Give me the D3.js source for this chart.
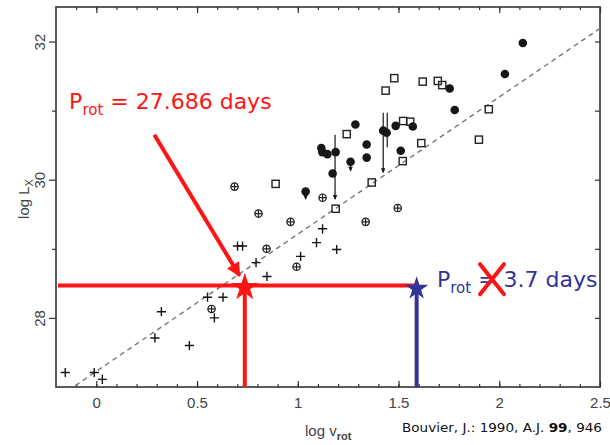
<!DOCTYPE html>
<html>
<head>
<meta charset="utf-8">
<script src="https://cdn.jsdelivr.net/npm/d3@7"></script>
<style>
body { margin: 0; background: #fff; }
svg text { font-family: "Liberation Sans", Arial, sans-serif; white-space: pre; }
.note { font-family: "DejaVu Sans", sans-serif; }
</style>
</head>
<body>
<svg id="chart" width="610" height="445"></svg>
<script>
var filled = [[1.286, 30.80], [1.117, 30.46], [1.122, 30.40], [1.147, 30.37], [1.188, 30.40],
  [1.173, 30.09], [1.262, 30.26], [1.342, 30.51], [1.342, 30.32], [1.424, 30.71],
  [1.441, 30.68], [1.486, 30.78], [1.571, 30.77], [1.511, 30.42], [1.779, 31.01],
  [1.754, 31.32], [2.028, 31.53], [2.117, 31.98], [1.039, 29.83]]

var squares = [[1.479, 31.47], [1.436, 31.29], [1.620, 31.42], [1.695, 31.43], [1.717, 31.37],
  [1.243, 30.66], [1.523, 30.85], [1.558, 30.84], [1.613, 30.53], [1.521, 30.27],
  [1.367, 29.96], [1.948, 31.02], [1.899, 30.58], [1.188, 29.58], [0.890, 29.94]]

var crossed = [[0.686, 29.90], [0.805, 29.51], [0.964, 29.39], [1.123, 29.74], [0.845, 29.00],
  [0.994, 28.74], [1.496, 29.59], [1.337, 29.39], [0.572, 28.13]]

var pluses = [[-0.154, 27.21], [-0.010, 27.21], [0.030, 27.11], [0.323, 28.09], [0.291, 27.71],
  [0.462, 27.60], [0.552, 28.30], [0.629, 28.30], [0.586, 28.00], [0.701, 29.04],
  [0.726, 29.04], [0.793, 28.80], [0.847, 28.60], [1.014, 28.89], [1.123, 29.29],
  [1.093, 29.09], [1.193, 28.99]]

// vertical range bars: x, top, bottom, arrow head
var bars = [[1.185, 30.65, 29.72, 1], [1.424, 30.97, 30.11, 1], [1.444, 30.97, 30.47, 0],
  [1.039, 29.83, 29.72, 1], [1.262, 30.26, 30.13, 1]]

var fitLine = [[-0.104, 27.02], [2.5, 32.19]]

var xMajor = [0, 0.5, 1, 1.5, 2, 2.5]
var xLabels = ['0', '0.5', '1', '1.5', '2', '2.5']
var yMajor = [28, 30, 32]
var yLabels = ['28', '30', '32']
var yMinor = [29, 31]
var yRight = [28, 29, 30, 31, 32]

var sun = [0.737, 28.47]
var fast = [1.59, 28.455]
var arrowFrom = [0.288, 30.65], arrowTo = [0.711, 28.61]
var redLabel = [-0.135, 31.02], blueLabel = [1.691, 28.447]
var strike = [1.964, 28.56]

var red = '#ff1414', blue = '#333399', ink = '#161616'

var svg = d3.select('#chart')
var x = d3.scaleLinear().domain([-0.2, 2.5]).range([56, 600])
var y = d3.scaleLinear().domain([27, 32.5]).range([387, 7])

svg.append('rect').attr('width', 610).attr('height', 445).attr('fill', '#fff')

svg.append('clipPath').attr('id', 'plot')
  .append('rect').attr('x', x(-0.2)).attr('y', y(32.5))
  .attr('width', x(2.5) - x(-0.2)).attr('height', y(27) - y(32.5))

var defs = svg.append('defs')
defs.append('marker').attr('id', 'head').attr('viewBox', '0 0 10 10')
  .attr('refX', 9).attr('refY', 5).attr('markerUnits', 'userSpaceOnUse')
  .attr('markerWidth', 16).attr('markerHeight', 14).attr('orient', 'auto')
  .append('path').attr('d', 'M0,0L10,5L0,10z').attr('fill', red)

// axes ticks
function clean(g) { g.select('.domain').remove(); g.selectAll('line').attr('stroke', '#333').attr('stroke-width', 1.2) }
var xMinor = d3.range(-0.1, 2.45, 0.1)

svg.append('g').attr('transform', 'translate(0,' + y(27) + ')')
  .call(d3.axisBottom(x).tickValues(xMinor).tickSize(-3).tickFormat('')).call(clean)
svg.append('g').attr('transform', 'translate(0,' + y(32.5) + ')')
  .call(d3.axisTop(x).tickValues(xMinor).tickSize(-3).tickFormat('')).call(clean)
svg.append('g').attr('transform', 'translate(0,' + y(32.5) + ')')
  .call(d3.axisTop(x).tickValues(xMajor).tickSize(-6).tickFormat('')).call(clean)

var xAxis = svg.append('g').attr('transform', 'translate(0,' + y(27) + ')')
  .call(d3.axisBottom(x).tickValues(xMajor).tickSize(-6).tickPadding(10)
    .tickFormat(function(d, i) { return xLabels[i] }))
  .call(clean)
xAxis.selectAll('text').attr('font-size', 15).attr('fill', '#444')
  .attr('font-family', '"Liberation Sans", Arial, sans-serif')

var yAxis = svg.append('g').attr('transform', 'translate(' + x(-0.2) + ',0)')
  .call(d3.axisLeft(y).tickValues(yMajor).tickSize(7)
    .tickFormat(function(d, i) { return yLabels[i] }))
  .call(clean)
yAxis.selectAll('text').attr('transform', 'rotate(-90)').attr('x', 0).attr('y', -11).attr('dy', 0)
  .attr('text-anchor', 'middle').attr('font-size', 15).attr('fill', '#444')
  .attr('font-family', '"Liberation Sans", Arial, sans-serif')
svg.append('g').attr('transform', 'translate(' + x(-0.2) + ',0)')
  .call(d3.axisLeft(y).tickValues(yMinor).tickSize(4).tickFormat('')).call(clean)
svg.append('g').attr('transform', 'translate(' + x(2.5) + ',0)')
  .call(d3.axisRight(y).tickValues(yRight).tickSize(-5).tickFormat('')).call(clean)

// frame
svg.append('rect').attr('x', x(-0.2)).attr('y', y(32.5))
  .attr('width', x(2.5) - x(-0.2)).attr('height', y(27) - y(32.5))
  .attr('fill', 'none').attr('stroke', '#333').attr('stroke-width', 1.6)

// axis titles
var yt = svg.append('text').attr('transform', 'translate(29,199) rotate(-90)')
  .attr('text-anchor', 'middle').attr('font-size', 15).attr('fill', '#444')
yt.append('tspan').text('log L')
yt.append('tspan').attr('dy', 4).attr('font-size', 11).text('X')

var xt = svg.append('text').attr('x', 305).attr('y', 436).attr('font-size', 15).attr('fill', '#444')
xt.append('tspan').text('log v')
xt.append('tspan').attr('dy', 4).attr('font-size', 11).attr('font-weight', 'bold').text('rot')

// dashed relation
var line = d3.line().x(function(d) { return x(d[0]) }).y(function(d) { return y(d[1]) })
svg.append('path').attr('d', line(fitLine)).attr('clip-path', 'url(#plot)')
  .attr('fill', 'none').attr('stroke', '#777').attr('stroke-width', 1.4).attr('stroke-dasharray', '5,4')

// range bars
var bg = svg.append('g').attr('stroke', ink).attr('fill', ink)
bars.forEach(function(b) {
  bg.append('line').attr('x1', x(b[0])).attr('x2', x(b[0]))
    .attr('y1', y(b[1])).attr('y2', y(b[2])).attr('stroke-width', 1.2)
  if (b[3]) bg.append('path')
    .attr('d', 'M' + (x(b[0]) - 2.2) + ',' + (y(b[2]) - 4) + 'L' + (x(b[0]) + 2.2) + ',' + (y(b[2]) - 4) + 'L' + x(b[0]) + ',' + (y(b[2]) + 1) + 'z')
    .attr('stroke', 'none')
})

// markers
svg.append('g').selectAll('circle').data(filled).join('circle')
  .attr('cx', function(d) { return x(d[0]) }).attr('cy', function(d) { return y(d[1]) })
  .attr('r', 4.3).attr('fill', ink)

svg.append('g').selectAll('rect').data(squares).join('rect')
  .attr('x', function(d) { return x(d[0]) - 3.6 }).attr('y', function(d) { return y(d[1]) - 3.6 })
  .attr('width', 7.2).attr('height', 7.2)
  .attr('fill', 'none').attr('stroke', '#222').attr('stroke-width', 1.4)

var cg = svg.append('g').selectAll('g').data(crossed).join('g')
  .attr('transform', function(d) { return 'translate(' + x(d[0]) + ',' + y(d[1]) + ')' })
  .attr('stroke', '#222').attr('fill', 'none').attr('stroke-width', 1.2)
cg.append('circle').attr('r', 3.7)
cg.append('path').attr('d', 'M-3.7,0H3.7M0,-3.7V3.7')

svg.append('g').selectAll('path').data(pluses).join('path')
  .attr('transform', function(d) { return 'translate(' + x(d[0]) + ',' + y(d[1]) + ')' })
  .attr('d', 'M-4.6,0H4.6M0,-4.6V4.6').attr('stroke', ink).attr('stroke-width', 1.4)

// annotation: the Sun and the fast rotator
var note = svg.append('g')
note.append('line').attr('x1', x(-0.2) + 2).attr('x2', x(fast[0]))
  .attr('y1', y(sun[1])).attr('y2', y(sun[1])).attr('stroke', red).attr('stroke-width', 4)
note.append('line').attr('x1', x(sun[0])).attr('x2', x(sun[0]))
  .attr('y1', y(sun[1])).attr('y2', y(27)).attr('stroke', red).attr('stroke-width', 4)
note.append('line').attr('x1', x(fast[0])).attr('x2', x(fast[0]))
  .attr('y1', y(fast[1])).attr('y2', y(27)).attr('stroke', blue).attr('stroke-width', 4)

note.append('line').attr('x1', x(arrowFrom[0])).attr('y1', y(arrowFrom[1]))
  .attr('x2', x(arrowTo[0])).attr('y2', y(arrowTo[1]))
  .attr('stroke', red).attr('stroke-width', 4).attr('marker-end', 'url(#head)')

note.append('path').attr('d', d3.symbol(d3.symbolStar, 240)())
  .attr('transform', 'translate(' + x(sun[0]) + ',' + (y(sun[1]) + 2) + ')').attr('fill', red)
note.append('path').attr('d', d3.symbol(d3.symbolStar, 170)())
  .attr('transform', 'translate(' + x(fast[0]) + ',' + (y(fast[1]) + 2) + ')').attr('fill', blue)

var rl = note.append('text').attr('class', 'note').attr('x', x(redLabel[0])).attr('y', y(redLabel[1]))
  .attr('font-size', 22).attr('fill', red)
rl.append('tspan').text('P')
rl.append('tspan').attr('dy', 6).attr('font-size', 15).text('rot')
rl.append('tspan').attr('dy', -6).text(' = 27.686 days')

var bl = note.append('text').attr('class', 'note').attr('x', x(blueLabel[0])).attr('y', y(blueLabel[1]))
  .attr('font-size', 22).attr('fill', blue)
bl.append('tspan').text('P')
bl.append('tspan').attr('dy', 6).attr('font-size', 15).text('rot')
bl.append('tspan').attr('dy', -6).text(' = 3.7 days')

var sx = x(strike[0]), sy = y(strike[1])
note.append('path').attr('d', 'M' + (sx - 12) + ',' + (sy - 15) + 'L' + (sx + 12) + ',' + (sy + 15)
  + 'M' + (sx + 12) + ',' + (sy - 15) + 'L' + (sx - 12) + ',' + (sy + 15))
  .attr('stroke', red).attr('stroke-width', 4).attr('stroke-linecap', 'round')

var cite = svg.append('text').attr('class', 'note').attr('x', 402).attr('y', 432)
  .attr('font-size', 12).attr('fill', '#111').attr('textLength', 200).attr('lengthAdjust', 'spacingAndGlyphs')
cite.append('tspan').text('Bouvier, J.: 1990, A.J. ')
cite.append('tspan').attr('font-weight', 'bold').text('99')
cite.append('tspan').text(', 946')
</script>
</body>
</html>
